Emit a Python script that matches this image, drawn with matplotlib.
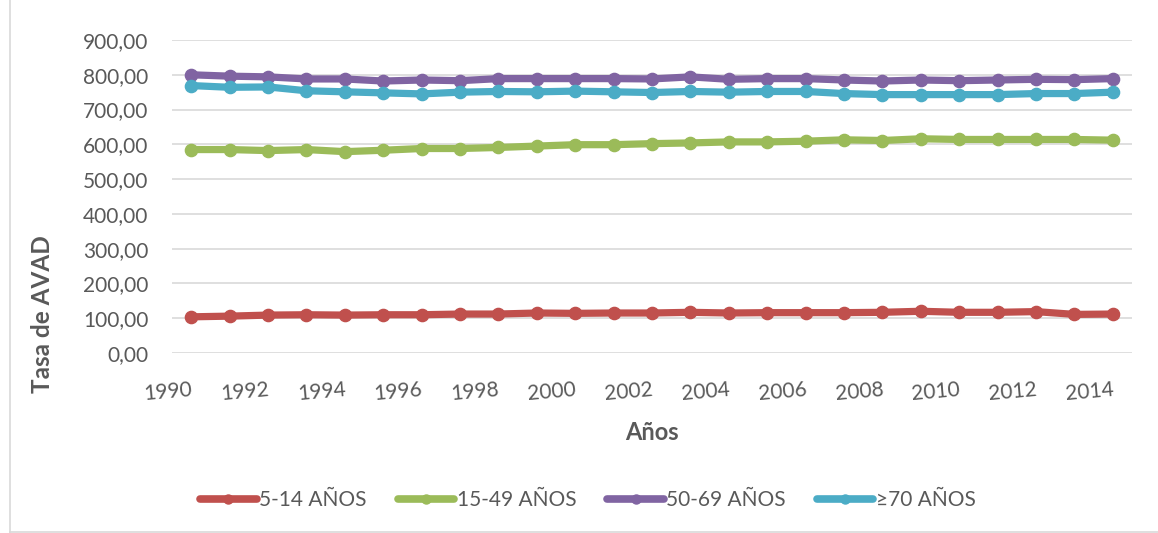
import matplotlib
matplotlib.use("Agg")
import matplotlib.pyplot as plt
from matplotlib.lines import Line2D
from matplotlib.ticker import FuncFormatter

plt.rcParams['font.family'] = ['Lato', 'DejaVu Sans']

years = list(range(1990, 2015))
tick_years = list(range(1990, 2015, 2))
y_ticks = [0, 100, 200, 300, 400, 500, 600, 700, 800, 900]

s_5_14 = [104, 106, 109, 110, 109, 110, 110, 112, 112, 115, 114, 115,
          115, 117, 115, 116, 116, 116, 117, 120, 117, 117, 119, 111, 112]
s_15_49 = [585, 585, 582, 585, 579, 583, 588, 588, 591, 595, 599, 599,
           602, 604, 607, 607, 609, 613, 611, 616, 614, 614, 614, 614, 612]
s_50_69 = [800, 796, 794, 788, 788, 782, 785, 783, 789, 789, 789, 789,
           788, 794, 787, 789, 789, 785, 782, 785, 783, 785, 787, 786, 789]
s_70 = [769, 764, 765, 754, 751, 748, 745, 750, 752, 751, 753, 751,
        749, 752, 750, 752, 752, 746, 743, 743, 743, 743, 746, 746, 750]

labels = ['5-14 AÑOS', '15-49 AÑOS', '50-69 AÑOS', '≥70 AÑOS']
colors = ['#C0504D', '#9BBB59', '#8064A2', '#4BACC6']
series = [s_5_14, s_15_49, s_50_69, s_70]

W, H = 1158, 533
fig = plt.figure(figsize=(W / 100, H / 100), dpi=100)
ax = fig.add_axes([172 / W, 1 - 353 / H, (1132 - 172) / W, (353 - 40) / H])

text_color = '#595959'
for vals, col in zip(series, colors):
    ax.plot(years, vals, color=col, linewidth=5.2, marker='o', markersize=8.8,
            solid_capstyle='round', solid_joinstyle='round', zorder=3)

ax.set_xlim(1989.5, 2014.5)
ax.set_ylim(0, 900)
ax.set_yticks(y_ticks)
ax.yaxis.set_major_formatter(FuncFormatter(lambda v, p: f"{v:.2f}".replace('.', ',')))
ax.set_xticks(tick_years)
ax.set_xticklabels([str(y) for y in tick_years], rotation=5, ha='right', va='top',
                   rotation_mode='anchor')
ax.tick_params(axis='both', length=0, labelsize=15, colors=text_color)
ax.tick_params(axis='y', pad=17)
ax.tick_params(axis='x', pad=19)
ax.grid(axis='y', color='#D9D9D9', linewidth=1.2, zorder=0)
ax.set_axisbelow(True)
for sp in ax.spines.values():
    sp.set_visible(False)

fig.text(43 / W, 1 - 314 / H, 'Tasa de AVAD', rotation=90, ha='center', va='center',
         fontsize=17.5, fontweight='bold', color=text_color)
fig.text(652 / W, 1 - 432 / H, 'Años', ha='center', va='center',
         fontsize=17, fontweight='bold', color=text_color)

handles = [Line2D([0], [0], color=c, linewidth=5.5, marker='o', markersize=6.5,
                  solid_capstyle='round') for c in colors]
fig.legend(handles, labels, loc='center', bbox_to_anchor=(588 / W, 1 - 500 / H),
           ncol=4, frameon=False, fontsize=15, handlelength=2.7, handletextpad=0.12,
           columnspacing=1.5, labelcolor=text_color)

# chart border (left and bottom visible in reference)
fig.add_artist(Line2D([9.5 / W, 9.5 / W], [0, 1], color='#D9D9D9', linewidth=1.2))
fig.add_artist(Line2D([9.5 / W, 1], [1.5 / H, 1.5 / H], color='#D9D9D9', linewidth=1.2))

fig.savefig('out.png', dpi=100)
